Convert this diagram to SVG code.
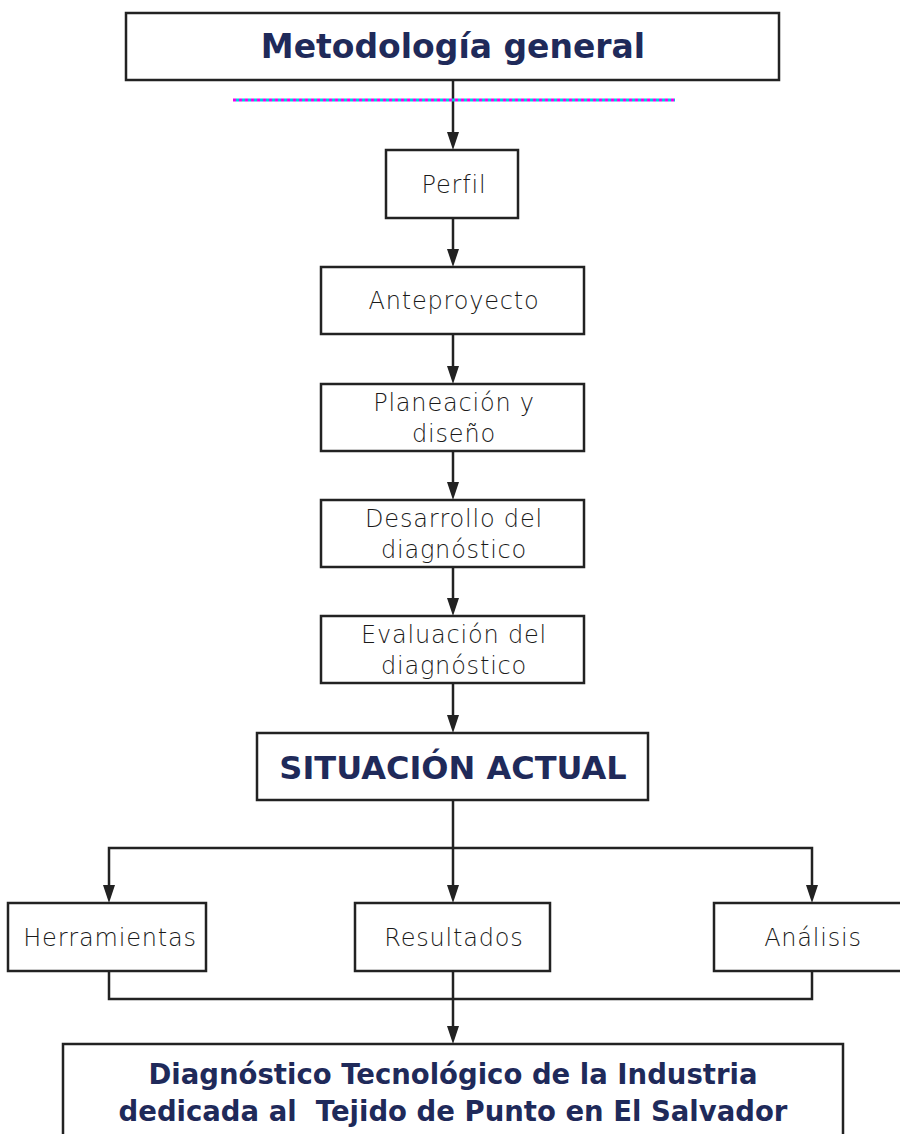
<svg xmlns="http://www.w3.org/2000/svg" width="900" height="1134" viewBox="0 0 900 1134">
<style>
.box{fill:#fff;stroke:#222;stroke-width:2.5}
.t{font-family:"DejaVu Sans",sans-serif;font-size:24px;letter-spacing:0.8px;fill:#1a1a1a;text-anchor:middle;font-weight:300}
.b{font-family:"DejaVu Sans",sans-serif;font-weight:bold;fill:#1f2a5a;text-anchor:middle}
.c{fill:none;stroke:#222;stroke-width:2.5}
.ah{fill:#222}
.dot1{stroke:#e0e;stroke-width:3;stroke-dasharray:3 3}
.dot2{stroke:#0cd;stroke-width:3;stroke-dasharray:3 3;stroke-dashoffset:3}
</style>
<g id="connectors">
<path class="c" d="M453,80 V133"/><path class="ah" d="M447,132 L459,132 L453,150 Z"/>
<path class="c" d="M453,218 V250"/><path class="ah" d="M447,249 L459,249 L453,267 Z"/>
<path class="c" d="M453,334 V367"/><path class="ah" d="M447,366 L459,366 L453,384 Z"/>
<path class="c" d="M453,451 V483"/><path class="ah" d="M447,482 L459,482 L453,500 Z"/>
<path class="c" d="M453,567 V599"/><path class="ah" d="M447,598 L459,598 L453,616 Z"/>
<path class="c" d="M453,683 V716"/><path class="ah" d="M447,715 L459,715 L453,733 Z"/>
<path class="c" d="M453,800 V886"/><path class="ah" d="M447,885 L459,885 L453,903 Z"/>
<path class="c" d="M109,886 V848 H812 V886"/>
<path class="ah" d="M103,885 L115,885 L109,903 Z"/>
<path class="ah" d="M806,885 L818,885 L812,903 Z"/>
<path class="c" d="M109,971 V999 H812 V971"/>
<path class="c" d="M453,971 V1027"/><path class="ah" d="M447,1026 L459,1026 L453,1044 Z"/>
</g>
<g id="title">
<rect class="box" x="126" y="13" width="653" height="67"/>
<text class="b" x="453" y="58" font-size="33">Metodología general</text>
</g>
<g id="artifact">
<line class="dot1" x1="233" y1="100" x2="675" y2="100"/>
<line class="dot2" x1="233" y1="100" x2="675" y2="100"/>
</g>
<g id="perfil">
<rect class="box" x="386" y="150" width="132" height="68"/>
<text class="t" x="454" y="193">Perfil</text>
</g>
<g id="anteproyecto">
<rect class="box" x="321" y="267" width="263" height="67"/>
<text class="t" x="454" y="309">Anteproyecto</text>
</g>
<g id="planeacion">
<rect class="box" x="321" y="384" width="263" height="67"/>
<text class="t" x="454" y="411">Planeación y</text>
<text class="t" x="454" y="442">diseño</text>
</g>
<g id="desarrollo">
<rect class="box" x="321" y="500" width="263" height="67"/>
<text class="t" x="454" y="527">Desarrollo del</text>
<text class="t" x="454" y="558">diagnóstico</text>
</g>
<g id="evaluacion">
<rect class="box" x="321" y="616" width="263" height="67"/>
<text class="t" x="454" y="643">Evaluación del</text>
<text class="t" x="454" y="674">diagnóstico</text>
</g>
<g id="situacion">
<rect class="box" x="257" y="733" width="391" height="67"/>
<text class="b" x="453" y="779" font-size="32">SITUACIÓN ACTUAL</text>
</g>
<g id="herramientas">
<rect class="box" x="8" y="903" width="198" height="68"/>
<text class="t" x="110" y="946">Herramientas</text>
</g>
<g id="resultados">
<rect class="box" x="355" y="903" width="195" height="68"/>
<text class="t" x="454" y="946">Resultados</text>
</g>
<g id="analisis">
<rect class="box" x="714" y="903" width="200" height="68"/>
<text class="t" x="813" y="946">Análisis</text>
</g>
<g id="diagnostico">
<rect class="box" x="63" y="1044" width="780" height="110"/>
<text class="b" x="453" y="1084" font-size="27.5">Diagnóstico Tecnológico de la Industria</text>
<text class="b" x="453" y="1121" font-size="27.5" xml:space="preserve">dedicada al  Tejido de Punto en El Salvador</text>
</g>
</svg>
